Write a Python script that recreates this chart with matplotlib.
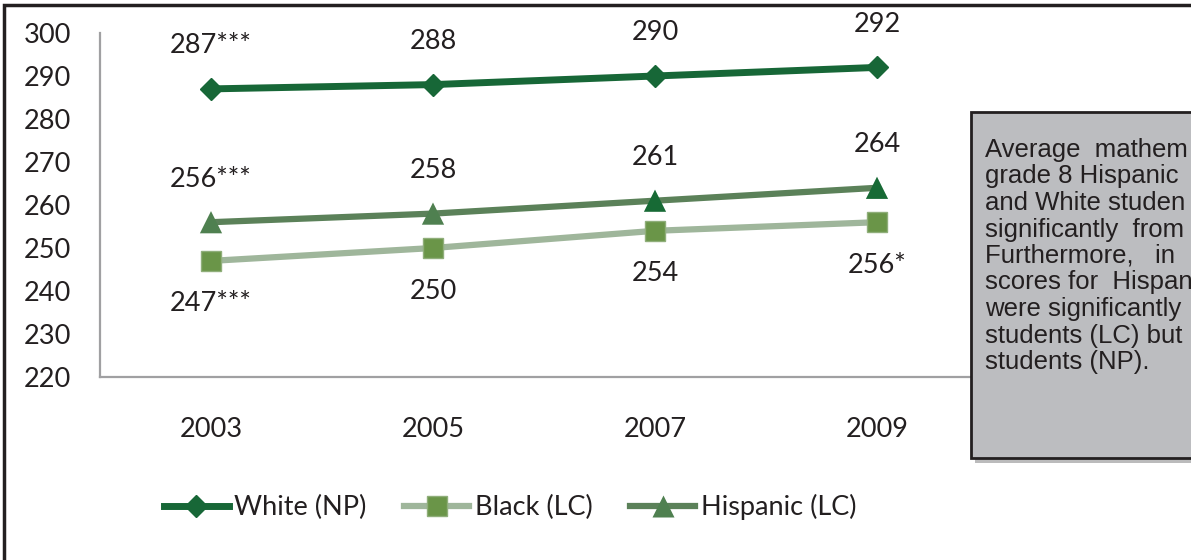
import matplotlib.pyplot as plt
from matplotlib.patches import Rectangle

years = ["2003", "2005", "2007", "2009"]
white = [287, 288, 290, 292]
black = [247, 250, 254, 256]
hispanic = [256, 258, 261, 264]
white_labels = ["287***", "288", "290", "292"]
black_labels = ["247***", "250", "254", "256*"]
hispanic_labels = ["256***", "258", "261", "264"]
hispanic_marker_colors = ["#4f8050", "#4f8050", "#176a35", "#176a35"]

# the note box runs off the right edge of the original page, text as visible
box_lines = [
    "Average  mathem",
    "grade 8 Hispanic",
    "and White studen",
    "significantly  from",
    "Furthermore,   in",
    "scores for  Hispan",
    "were significantly",
    "students (LC) but",
    "students (NP).",
]

W, H = 1191, 560
TXT = "#231f20"
FS = 19.5
plt.rcParams["font.family"] = ["Lato", "DejaVu Sans"]

fig = plt.figure(figsize=(W / 100, H / 100), dpi=100)
ax = fig.add_axes([100 / W, 1 - 377 / H, 888 / W, 344 / H])

x = list(range(len(years)))

ax.plot(x, black, color="#9fb69b", lw=4.5, marker="s", ms=15,
        mfc="#6a9548", mec="#8fae7a", mew=1, label="Black (LC)", zorder=3)
ax.plot(x, hispanic, color="#5b8159", lw=4.5, zorder=4)
ax.scatter(x, hispanic, marker="^", s=16 ** 2, c=hispanic_marker_colors,
           edgecolors="none", zorder=5)
ax.plot([], [], color="#5b8159", lw=4.5, marker="^", ms=16, mfc="#4f8050",
        mec="none", label="Hispanic (LC)")
ax.plot(x, white, color="#176737", lw=5, marker="D", ms=11.5,
        mfc="#176737", mec="#176737", label="White (NP)", zorder=6)

for xi, v, lab in zip(x, white, white_labels):
    ax.annotate(lab, (xi, v), xytext=(0, 31), textcoords="offset points",
                ha="center", va="center", fontsize=FS, color=TXT)
for xi, v, lab in zip(x, hispanic, hispanic_labels):
    ax.annotate(lab, (xi, v), xytext=(0, 31), textcoords="offset points",
                ha="center", va="center", fontsize=FS, color=TXT)
for xi, v, lab in zip(x, black, black_labels):
    ax.annotate(lab, (xi, v), xytext=(0, -31), textcoords="offset points",
                ha="center", va="center", fontsize=FS, color=TXT)

ax.set_xlim(-0.5, len(years) - 0.5)
ax.set_ylim(220, 300)
ax.set_yticks(range(220, 301, 10))
ax.set_xticks(x)
ax.set_xticklabels(years)
ax.tick_params(axis="both", length=0, labelsize=FS, labelcolor=TXT)
ax.tick_params(axis="y", pad=21)
ax.tick_params(axis="x", pad=29)
for s in ["top", "right"]:
    ax.spines[s].set_visible(False)
for s in ["left", "bottom"]:
    ax.spines[s].set_color("#a0a0a2")
    ax.spines[s].set_linewidth(1.6)

handles, labels = ax.get_legend_handles_labels()
order = [labels.index(l) for l in ["White (NP)", "Black (LC)", "Hispanic (LC)"]]
fig.legend([handles[i] for i in order], [labels[i] for i in order],
           loc="center", bbox_to_anchor=(510 / W, 1 - 507 / H), ncol=3,
           frameon=False, fontsize=FS, handlelength=2.4, handletextpad=0.2,
           columnspacing=1.4, labelcolor=TXT)

# outer frame
fig.add_artist(Rectangle((4 / W, -0.1), 1.2, 1.1 - 5 / H, transform=fig.transFigure,
                         fill=False, ec=TXT, lw=2.5, clip_on=False))

# side note box with shadow
fig.add_artist(Rectangle((975 / W, 1 - 463 / H), 0.5, 346 / H, transform=fig.transFigure,
                         fc="#8e8e90", ec="none", alpha=0.6, zorder=10))
fig.add_artist(Rectangle((971 / W, 1 - 458 / H), 0.5, 346 / H, transform=fig.transFigure,
                         fc="#bcbdc0", ec=TXT, lw=2, zorder=11))
for i, line in enumerate(box_lines):
    fig.text(985 / W, 1 - (150 + i * 26.5) / H, line, ha="left", va="center",
             fontsize=18.5, family=["Liberation Sans", "DejaVu Sans"],
             color=TXT, zorder=12)

fig.savefig("out.png", dpi=100)
